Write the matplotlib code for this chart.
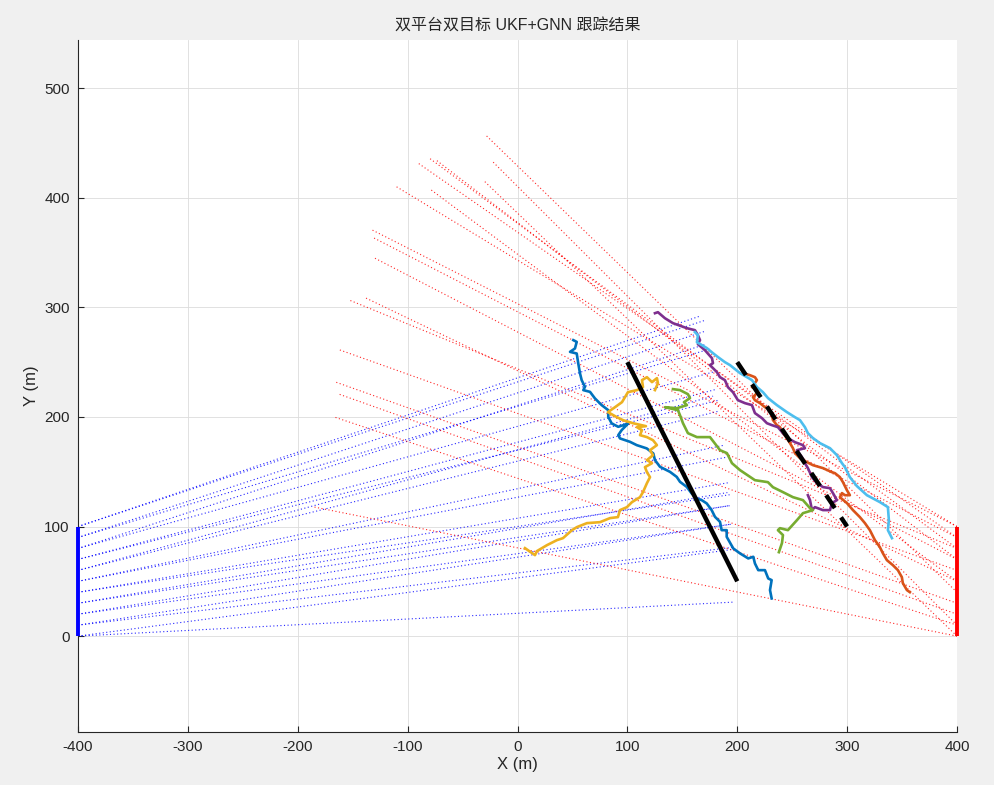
import matplotlib
matplotlib.use("Agg")
import matplotlib.pyplot as plt

plt.rcParams['font.family'] = ['Liberation Sans', 'Noto Sans CJK SC', 'DejaVu Sans']
plt.rcParams['axes.unicode_minus'] = False

# ---------------- data ----------------
title = "双平台双目标 UKF+GNN 跟踪结果"
xlabel = "X (m)"
ylabel = "Y (m)"
xticks = [-400, -300, -200, -100, 0, 100, 200, 300, 400]
yticks = [0, 100, 200, 300, 400, 500]

# platforms (x, y-range)
plat1_x = [-400, -400]
plat1_y = [0, 100]
plat2_x = [400, 400]
plat2_y = [0, 100]

# true target trajectories
truth1_x = [100, 200]
truth1_y = [250, 50]
truth2_x = [200, 300]
truth2_y = [250, 100]

# bearing lines from platform 1 (start at x=-400)
blue_start_y = [100, 100, 90, 90, 80, 80, 70, 70, 60, 60, 50, 50, 40, 40, 30, 30, 20, 20, 10, 10, 0, 0]
blue_end_x = [166, 170, 170, 175, 170, 178, 180, 182, 178, 182, 189, 187, 193, 192, 191, 193, 192, 194, 193, 196, 195, 196]
blue_end_y = [292, 288, 278, 262, 266, 241, 225, 215, 219, 205, 163, 174, 129, 140, 131, 119, 119, 102, 102, 81, 79, 31]

# bearing lines from platform 2 (start at x=400)
red_start_y = [40, 10, 80, 90, 70, 0, 100, 50, 100, 90, 70, 80, 50, 60, 30, 20, 10, 0]
red_end_x = [-28.7, -22.6, -80, -91, -73.5, -30, -111, -79, -133, -132, -131, -153, -139, -163, -166, -163, -167, -186]
red_end_y = [457, 433, 436, 432, 434, 415, 410.6, 407.5, 371, 364, 345.5, 306.6, 309, 261.6, 232, 221, 200, 118]

# estimated tracks
trk_blue_x = [50.8, 53.9, 52.3, 47.8, 53.9, 55.3, 56.9, 58.4, 61.4, 59.9, 66.0, 70.5, 76.6, 82.6, 82.6, 85.7,
              91.7, 96.3, 100.8, 94.8, 91.7, 93.3, 102.4, 108.5, 117.6, 123.6, 125.1, 129.7, 138.8, 144.9,
              147.9, 154.0, 158.5, 163.1, 167.6, 172.2, 176.7, 179.7, 184.3, 185.8, 190.4, 190.4, 196.4,
              202.5, 210.0, 214.6, 216.1, 219.1, 225.2, 228.2, 231.3, 229.8, 231.3]
trk_blue_y = [270.1, 268.5, 262.5, 259.4, 257.9, 248.8, 239.7, 233.6, 227.5, 224.5, 222.9, 216.9, 210.8, 206.2,
              200.1, 194.1, 191.0, 192.5, 194.1, 188.0, 183.4, 180.4, 177.3, 174.3, 171.3, 166.7, 160.6,
              154.5, 149.9, 145.3, 140.8, 136.2, 130.2, 125.6, 124.1, 121.1, 115.0, 108.9, 104.3, 96.7,
              96.7, 90.6, 80.0, 75.5, 70.9, 72.4, 66.3, 60.2, 60.2, 52.6, 51.1, 42.0, 34.4]

trk_orange_x = [205.2, 211.6, 216.1, 217.9, 213.4, 216.1, 217.9, 214.3, 216.1, 220.7, 225.2, 227.9, 231.6,
                232.5, 236.1, 238.9, 241.6, 245.2, 248.0, 250.7, 252.5, 257.1, 259.8, 268.9, 278.0, 286.2,
                288.9, 293.4, 296.2, 299.8, 302.5, 298.0, 295.3, 293.4, 299.8, 305.3, 311.6, 316.2, 320.7,
                325.3, 329.8, 332.5, 336.2, 341.6, 346.2, 349.8, 350.7, 354.4, 357.1]
trk_orange_y = [240.0, 238.1, 236.3, 233.6, 227.2, 226.3, 221.7, 218.1, 215.3, 212.6, 208.9, 208.0, 201.6,
                197.1, 192.5, 190.7, 185.2, 180.7, 176.1, 171.5, 167.0, 162.4, 160.6, 156.0, 153.3, 149.6,
                148.7, 145.1, 140.5, 133.2, 128.6, 128.6, 130.5, 126.8, 121.4, 115.0, 108.6, 103.1, 96.7,
                87.6, 81.2, 75.7, 69.3, 64.8, 60.2, 53.8, 48.4, 42.0, 40.1]

trk_yellow_x = [6.8, 15.9, 17.7, 26.8, 35.9, 41.4, 49.6, 54.1, 63.2, 75.1, 84.2, 91.4, 93.3, 99.6, 104.2,
                111.5, 114.2, 117.8, 120.6, 117.8, 116.0, 122.4, 117.8, 123.3, 120.6, 126.9, 123.3, 117.8,
                111.5, 113.3, 108.7, 116.9, 105.1, 96.0, 90.5, 82.3, 88.7, 95.1, 100.5, 108.7, 114.2, 113.3,
                117.8, 122.4, 126.9, 127.8, 125.1]
trk_yellow_y = [80.3, 73.9, 77.6, 83.0, 87.6, 89.4, 96.7, 99.5, 103.1, 104.0, 107.7, 108.6, 115.0, 117.7,
                122.3, 126.8, 131.4, 139.6, 145.1, 149.6, 154.2, 157.8, 160.6, 165.1, 169.7, 174.3, 178.8,
                181.6, 183.4, 188.0, 190.7, 191.6, 194.3, 197.1, 199.8, 204.4, 208.9, 213.5, 222.6, 224.5,
                227.2, 233.6, 236.3, 231.8, 235.4, 230.8, 224.5]

trk_purple_x = [125.1, 127.8, 134.2, 141.5, 154.2, 161.5, 164.2, 166.1, 164.2, 170.6, 177.0, 177.9, 175.2,
                181.5, 184.3, 188.8, 191.5, 196.1, 200.6, 207.0, 213.4, 216.1, 222.5, 227.0, 231.6, 237.0,
                241.6, 246.1, 252.5, 259.8, 261.6, 254.3, 258.9, 261.6, 264.3, 268.0, 272.5, 278.0, 284.4,
                287.1, 290.7, 286.2, 284.4, 278.0, 270.7, 268.0, 266.2, 264.3]
trk_purple_y = [294.7, 295.6, 290.1, 285.6, 281.0, 279.2, 274.6, 270.1, 266.4, 260.9, 253.6, 249.1, 247.3,
                240.9, 236.3, 233.6, 227.2, 222.6, 215.3, 212.6, 210.8, 203.5, 198.9, 194.3, 192.5, 190.7,
                185.2, 180.7, 177.0, 174.3, 171.5, 169.7, 163.3, 157.8, 153.3, 145.1, 139.6, 136.0, 135.0,
                130.5, 124.1, 121.4, 115.0, 115.0, 117.7, 115.0, 124.1, 128.6]

trk_green_x = [141.5, 147.9, 155.1, 157.0, 151.5, 154.2, 145.1, 134.2, 146.0, 147.9, 150.6, 155.1, 163.3,
               175.2, 184.3, 190.6, 195.2, 202.5, 216.1, 227.9, 232.5, 241.6, 250.7, 259.8, 266.2, 268.9,
               259.8, 254.3, 246.1, 238.9, 237.0, 241.6, 240.7, 237.9]
trk_green_y = [225.4, 224.5, 220.8, 217.2, 213.5, 210.8, 208.0, 208.9, 206.2, 201.6, 194.3, 185.2, 181.6,
               181.6, 169.7, 167.0, 157.8, 151.5, 142.3, 140.5, 135.9, 131.4, 126.8, 124.1, 116.8, 115.0,
               112.2, 105.8, 96.7, 98.5, 96.7, 92.2, 84.9, 76.6]

trk_cyan_x = [161.5, 164.2, 163.3, 167.9, 172.4, 177.9, 182.5, 188.8, 193.4, 202.5, 213.4, 218.0, 223.4,
              228.0, 236.1, 245.2, 252.5, 257.1, 261.6, 264.3, 268.9, 275.3, 284.4, 290.7, 295.3, 298.0,
              302.5, 308.9, 318.0, 329.8, 337.1, 338.0, 337.1, 340.8]
trk_cyan_y = [277.4, 274.6, 268.2, 265.5, 262.8, 258.2, 254.6, 250.0, 247.3, 240.0, 233.6, 227.2, 222.6,
              217.2, 210.8, 204.4, 199.8, 197.1, 190.7, 185.2, 180.7, 176.1, 171.5, 165.1, 157.8, 154.2,
              145.1, 136.9, 128.6, 122.3, 117.7, 105.8, 96.7, 89.4]

tracks = [
    (trk_blue_x, trk_blue_y, '#0072BD'),
    (trk_orange_x, trk_orange_y, '#D95319'),
    (trk_yellow_x, trk_yellow_y, '#EDB120'),
    (trk_purple_x, trk_purple_y, '#7E2F8E'),
    (trk_green_x, trk_green_y, '#77AC30'),
    (trk_cyan_x, trk_cyan_y, '#4DBEEE'),
]

# ---------------- figure ----------------
fig = plt.figure(figsize=(9.95, 7.85), dpi=100, facecolor='#f0f0f0')
ax = fig.add_axes([78 / 995, 1 - 732 / 785, (957 - 78) / 995, (732 - 40) / 785])
ax.set_facecolor('white')

dot = (0, (1, 2.2))
for ys, xe, ye in zip(blue_start_y, blue_end_x, blue_end_y):
    ax.plot([plat1_x[0], xe], [ys, ye], color='#0000ff', lw=0.8, linestyle=dot, alpha=0.85, zorder=2)
for ys, xe, ye in zip(red_start_y, red_end_x, red_end_y):
    ax.plot([plat2_x[0], xe], [ys, ye], color='#ff0000', lw=0.8, linestyle=dot, alpha=0.85, zorder=2)

ax.plot(plat1_x, plat1_y, color='#0000ff', lw=2.8, zorder=4, solid_capstyle='butt', clip_on=False)
ax.plot(plat2_x, plat2_y, color='#ff0000', lw=2.8, zorder=4, solid_capstyle='butt', clip_on=False)

for tx, ty, c in tracks:
    ax.plot(tx, ty, color=c, lw=1.9, zorder=5)

ax.plot(truth1_x, truth1_y, color='black', lw=3.2, zorder=6, solid_capstyle='butt')
ax.plot(truth2_x, truth2_y, color='black', lw=3.2, linestyle=(0, (3.5, 2.5)), zorder=6)

ax.set_xlim(-400, 400)
ax.set_ylim(-87.5, 544)
ax.set_xticks(xticks)
ax.set_yticks(yticks)
ax.grid(True, color='#dcdcdc', lw=0.6)
ax.set_axisbelow(True)
for s in ['top', 'right']:
    ax.spines[s].set_visible(False)
for s in ['left', 'bottom']:
    ax.spines[s].set_color('#262626')
    ax.spines[s].set_linewidth(0.8)
ax.tick_params(direction='in', length=4, width=0.8, colors='#262626', labelsize=11, pad=6)
ax.set_xlabel(xlabel, fontsize=12, color='#262626', labelpad=2)
ax.set_ylabel(ylabel, fontsize=12, color='#262626', labelpad=4)
ax.set_title(title, fontsize=11.5, color='#262626', pad=7)

fig.savefig('out.png', dpi=100, facecolor=fig.get_facecolor())
